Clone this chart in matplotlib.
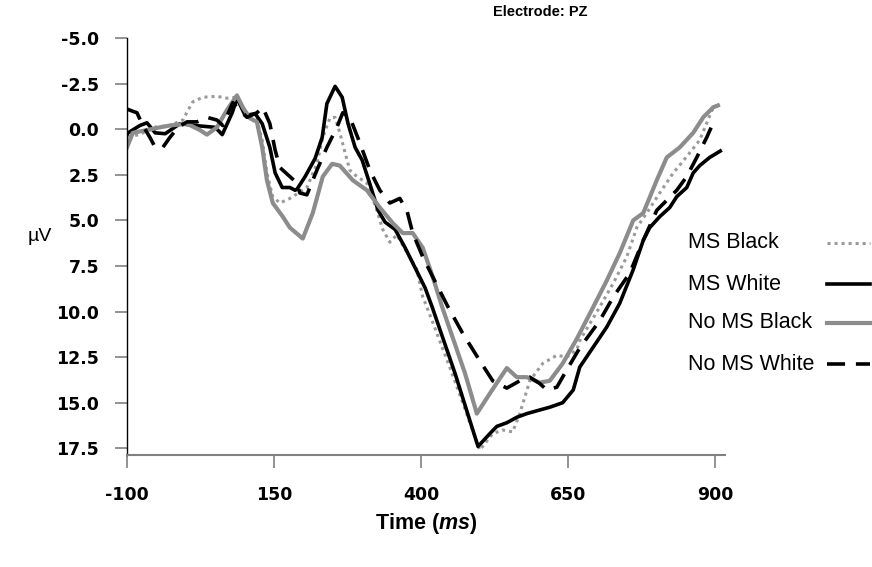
import numpy as np
import matplotlib
matplotlib.use("Agg")
import matplotlib.pyplot as plt
from matplotlib.lines import Line2D

plt.rcParams['font.family'] = ['Liberation Sans', 'DejaVu Sans']
plt.rcParams['mathtext.fontset'] = 'custom'
plt.rcParams['mathtext.it'] = 'Liberation Sans:italic:bold'
plt.rcParams['mathtext.rm'] = 'Liberation Sans:bold'
plt.rcParams['axes.unicode_minus'] = False

# -------- data (ms, microvolts) --------
ms_white_t = [-100, -98, -78, -66, -52, -35, -10, 16, 50, 62, 79, 87, 101, 118, 130, 143, 152,
              164, 177, 186, 189, 203, 220, 232, 240, 254, 266, 276, 288, 300, 313, 327, 339,
              356, 373, 390, 407, 419, 458, 497, 517, 529, 546, 563, 580, 602, 619, 641, 659,
              670, 693, 716, 738, 761, 778, 789, 806, 823, 835, 852, 863, 874, 891, 909]
ms_white_v = [0.3, 0.2, -0.2, -0.35, 0.2, 0.25, -0.3, -0.2, -0.1, 0.3, -0.9, -1.7, -0.75, -0.85,
              -0.3, 1.0, 2.4, 3.2, 3.2, 3.35, 3.3, 2.6, 1.6, 0.45, -1.4, -2.35, -1.75, -0.3, 1.0,
              1.7, 3.0, 4.45, 5.1, 5.5, 6.5, 7.6, 8.7, 9.75, 13.4, 17.4, 16.7, 16.3, 16.1, 15.8,
              15.6, 15.4, 15.25, 15.0, 14.3, 13.05, 11.95, 10.85, 9.55, 7.7, 6.1, 5.4, 4.8, 4.3,
              3.7, 3.2, 2.4, 2.0, 1.55, 1.2]

ms_black_t = [-98, -78, -56, -27, -5, 4, 12, 29, 53, 70, 87, 97, 109, 121, 130, 138, 148, 160,
              177, 194, 206, 223, 233, 245, 254, 262, 271, 279, 291, 308, 325, 335, 347, 359,
              393, 403, 410, 453, 500, 522, 539, 556, 568, 585, 607, 631, 648, 665, 670, 704,
              727, 750, 767, 784, 806, 829, 852, 874, 895, 905]
ms_black_v = [0.4, 0.3, -0.1, -0.2, -0.5, -1.05, -1.5, -1.75, -1.8, -1.7, -1.75, -1.05, -0.65,
              -0.5, 0.6, 2.4, 3.7, 4.05, 3.8, 3.45, 3.2, 1.9, 0.45, -0.6, -0.65, 0.2, 1.3, 2.25,
              2.6, 2.95, 4.45, 5.5, 6.2, 5.8, 7.7, 9.2, 9.75, 13.4, 17.6, 16.7, 16.5, 16.6, 15.6,
              13.8, 12.85, 12.4, 12.5, 12.1, 11.6, 9.75, 8.45, 7.0, 5.4, 4.6, 3.5, 2.4, 1.5, 0.6,
              -1.05, -1.3]

no_black_t = [-100, -90, -66, -44, -27, 2, 24, 36, 53, 70, 87, 97, 109, 121, 130, 138, 148, 165,
              177, 199, 216, 233, 249, 262, 284, 308, 330, 352, 369, 386, 403, 420, 436, 475,
              495, 517, 546, 563, 580, 602, 619, 641, 665, 693, 716, 738, 761, 778, 801, 818,
              840, 863, 880, 897, 905]
no_black_v = [1.0, 0.2, 0.05, -0.1, -0.2, -0.3, 0.05, 0.3, -0.1, -1.05, -1.85, -1.2, -0.6, -0.4,
              1.0, 2.8, 4.05, 4.8, 5.4, 6.0, 4.6, 2.6, 1.9, 2.0, 2.8, 3.35, 4.3, 5.15, 5.7, 5.7,
              6.5, 8.1, 9.75, 13.4, 15.6, 14.5, 13.1, 13.6, 13.6, 13.9, 13.8, 12.85, 11.5, 9.75,
              8.3, 6.8, 5.0, 4.6, 2.8, 1.55, 1.0, 0.2, -0.65, -1.2, -1.3]

no_white_t = [-100, -83, -73, -61, -52, -39, -27, -13, 2, 19, 36, 53, 63, 80, 92, 104, 121, 131,
              143, 152, 160, 177, 189, 194, 206, 223, 240, 257, 267, 279, 296, 313, 330, 347,
              364, 376, 386, 403, 420, 446, 471, 500, 522, 546, 568, 585, 602, 614, 631, 648,
              670, 704, 727, 755, 778, 801, 818, 835, 852, 869, 886, 895, 909]
no_white_v = [-1.1, -0.9, -0.2, 0.45, 1.0, 1.0, 0.45, -0.1, -0.4, -0.4, -0.65, -0.5, -0.2, -1.45,
              -1.05, -0.65, -0.9, -1.2, -0.3, 1.15, 2.1, 2.6, 2.95, 3.5, 3.6, 2.25, 1.0, -0.1,
              -0.9, -0.65, 0.75, 2.25, 3.35, 4.05, 3.8, 4.45, 5.7, 7.0, 8.1, 9.75, 11.2, 12.7,
              13.8, 14.2, 13.8, 13.6, 13.95, 14.3, 14.15, 13.2, 12.0, 10.5, 9.2, 7.9, 6.1, 4.45,
              3.9, 3.35, 2.6, 1.55, 0.45, -0.2, -0.3]

labels = ['MS Black', 'MS White', 'No MS Black', 'No MS White']
xticks = [-100, 150, 400, 650, 900]
yticks = [-5.0, -2.5, 0.0, 2.5, 5.0, 7.5, 10.0, 12.5, 15.0, 17.5]

# styles per series
styles = [
    dict(color='#9a9a9a', lw=2.2, ls=(0, (1, 1.3))),
    dict(color='black', lw=2.6, ls='-'),
    dict(color='#8c8c8c', lw=3.0, ls='-'),
    dict(color='black', lw=2.6, ls=(0, (5, 3))),
]
series = [(ms_black_t, ms_black_v), (ms_white_t, ms_white_v),
          (no_black_t, no_black_v), (no_white_t, no_white_v)]

W, H = 872, 567
fig = plt.figure(figsize=(W / 100, H / 100), dpi=100)
ax = fig.add_axes([0.1456, 0.1975, 0.6858, 0.7355])

for (t, v), st, lab in zip(series, styles, labels):
    ax.plot(t, v, label=lab, **st)

ax.set_xlim(-100, 917)
ax.set_ylim(17.87, -5.0)
ax.set_xticks(xticks)
ax.set_yticks(yticks)
ax.set_yticklabels([f"{v:.1f}" for v in yticks])

for s in ['top', 'right']:
    ax.spines[s].set_visible(False)
ax.spines['left'].set_color('black')
ax.spines['bottom'].set_color('#808080')
ax.spines['bottom'].set_linewidth(1.5)
ax.spines['left'].set_linewidth(1.0)

ax.tick_params(axis='y', direction='out', length=9, width=1.2, color='#808080', pad=11)
ax.tick_params(axis='x', direction='out', length=9.5, width=1.2, color='#808080', pad=13)
for lab in ax.get_xticklabels() + ax.get_yticklabels():
    lab.set_fontfamily('DejaVu Sans')
    lab.set_fontweight('bold')
    lab.set_fontsize(12.5)

ax.set_xlabel(r'Time ($\mathit{ms}$)', fontsize=15.5, fontweight='bold', labelpad=5)
ax.set_ylabel('µV', rotation=0, fontsize=14)
ax.yaxis.set_label_coords(-0.1455, 0.504)

fig.text(540 / W, 1 - 12 / H, 'Electrode: PZ', ha='center', va='center',
         fontsize=10.5, fontweight='bold')

# legend: labels left-aligned, line samples aligned to the right
leg_rows = [243, 284, 323, 364]
for lab, st, ypx in zip(labels, styles, leg_rows):
    yf = 1 - ypx / H
    fig.text(688 / W, yf, lab, ha='left', va='center', fontsize=15.5)
    fig.add_artist(Line2D([827 / W, 870 / W], [yf, yf], transform=fig.transFigure, **st))

fig.savefig('out.png', dpi=100)
